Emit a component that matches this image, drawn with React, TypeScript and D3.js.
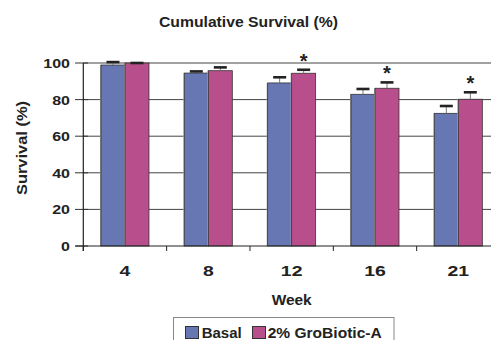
import React from "react";
import * as d3 from "d3";

const weeks = ["4", "8", "12", "16", "21"];
const basal = [98.9, 94.5, 89.1, 82.9, 72.5];
const basalErr = [1.6, 0.9, 3.1, 2.9, 4.0];
const grobiotic = [100, 95.8, 94.4, 86.2, 80.2];
const grobioticErr = [0, 1.8, 1.9, 3.2, 3.8];
const significant = [false, false, true, true, true];
const yTicks = [0, 20, 40, 60, 80, 100];

const BLUE = "#6677b4";
const MAGENTA = "#b84f8c";
const FONT = "'Liberation Sans', Arial, sans-serif";

export default function App() {
  const W = 491, H = 340;
  const left = 83.3, top = 63, bottom = 246;
  const x = d3.scaleBand<string>().domain(weeks).range([left, 500]).paddingInner(0).paddingOuter(0);
  const y = d3.scaleLinear().domain([0, 100]).range([bottom, top]);
  const barW = 24;

  const series = [
    { vals: basal, errs: basalErr, color: BLUE, off: -barW },
    { vals: grobiotic, errs: grobioticErr, color: MAGENTA, off: 0 },
  ];

  return (
    <svg width={W} height={H} style={{ position: "absolute", left: 0, top: 0 }} fontFamily={FONT}>
      <rect width={W} height={H} fill="#fff" />
      <text x={248.5} y={27} textAnchor="middle" fontWeight="bold" fontSize={14} fill="#222"
        textLength={179} lengthAdjust="spacingAndGlyphs">Cumulative Survival (%)</text>

      {yTicks.map((t) => (
        <g key={t}>
          {t > 0 && <line x1={left} x2={W} y1={y(t)} y2={y(t)} stroke="#444" strokeWidth={1} />}
          <line x1={75} x2={88} y1={y(t)} y2={y(t)} stroke="#333" strokeWidth={1} />
          <text x={70} y={y(t) + 5} textAnchor="end" fontWeight="bold" fontSize={13.5} fill="#222"
            textLength={String(t).length * 8.9} lengthAdjust="spacingAndGlyphs">{t}</text>
        </g>
      ))}

      {series.map((s, si) =>
        weeks.map((w, i) => {
          const bx = x(w)! + x.bandwidth() / 2 + s.off;
          const v = s.vals[i];
          const e = s.errs[i];
          const cx = bx + barW / 2;
          return (
            <g key={si + "-" + w}>
              <line x1={bx - 0.5} x2={bx - 0.5} y1={y(v)} y2={bottom} stroke="#aaa" strokeWidth={1} />
              <rect x={bx} y={y(v)} width={barW} height={bottom - y(v)} fill={s.color} stroke="#333" strokeWidth={0.8} />
              <line x1={cx} x2={cx} y1={y(v)} y2={y(v + e)} stroke="#777" strokeWidth={1} />
              <line x1={cx - 6.5} x2={cx + 6.5} y1={y(v + e)} y2={y(v + e)} stroke="#222" strokeWidth={2.6} />
              {si === 1 && significant[i] && (
                <text x={cx} y={y(v + e) - 13 + 11} textAnchor="middle" fontWeight="bold" fontSize={20} fill="#222">*</text>
              )}
            </g>
          );
        })
      )}

      <line x1={left} x2={left} y1={top} y2={bottom + 5} stroke="#222" strokeWidth={1.2} />
      <line x1={left - 8} x2={W} y1={bottom} y2={bottom} stroke="#222" strokeWidth={1.2} />
      {weeks.map((w) => (
        <line key={"t" + w} x1={x(w)!} x2={x(w)!} y1={bottom} y2={bottom + 5} stroke="#222" strokeWidth={1} />
      ))}
      {weeks.map((w) => (
        <text key={"l" + w} x={x(w)! + x.bandwidth() / 2} y={276} textAnchor="middle" fontWeight="bold" fontSize={14} fill="#222"
          textLength={w.length * 10.8} lengthAdjust="spacingAndGlyphs">{w}</text>
      ))}
      <text x={291.7} y={305} textAnchor="middle" fontWeight="bold" fontSize={14} fill="#222"
        textLength={40} lengthAdjust="spacingAndGlyphs">Week</text>
      <text transform="translate(27,148) rotate(-90)" textAnchor="middle" fontWeight="bold" fontSize={14} fill="#222"
        textLength={94} lengthAdjust="spacingAndGlyphs">Survival (%)</text>

      <rect x={173.5} y={317.5} width={220.5} height={30} fill="#fff" stroke="#888" strokeWidth={1} />
      <rect x={185.5} y={326.5} width={13} height={12} fill={BLUE} stroke="#333" strokeWidth={1} />
      <text x={201.7} y={338.3} fontWeight="bold" fontSize={14} fill="#222" textLength={40} lengthAdjust="spacingAndGlyphs">Basal</text>
      <rect x={252.5} y={326.5} width={13} height={12} fill={MAGENTA} stroke="#333" strokeWidth={1} />
      <text x={267.7} y={338.3} fontWeight="bold" fontSize={14} fill="#222" textLength={114} lengthAdjust="spacingAndGlyphs">2% GroBiotic-A</text>
    </svg>
  );
}
